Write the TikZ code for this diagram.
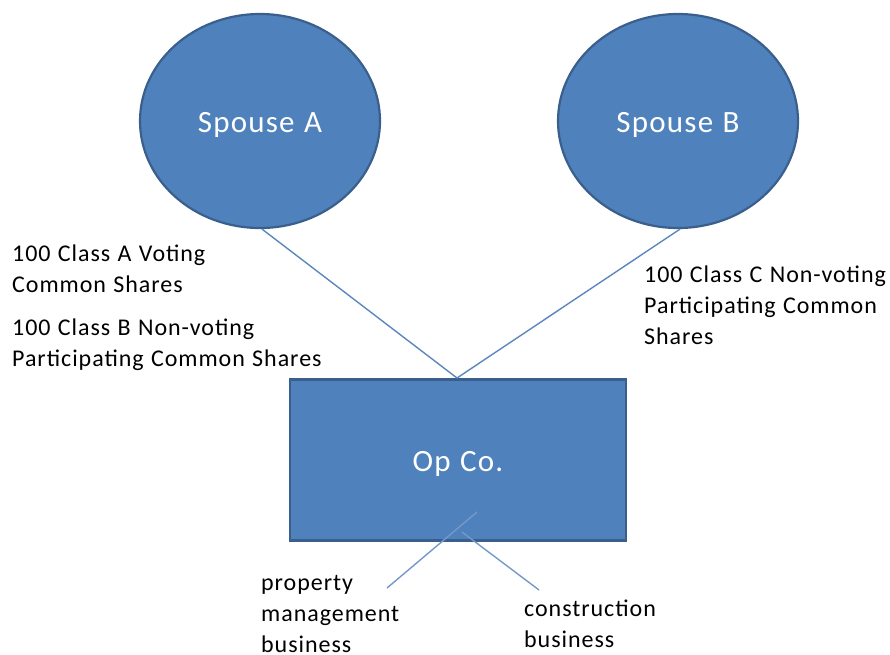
\documentclass[tikz,border=0pt]{standalone}
\usepackage{fontspec}
\setmainfont{Carlito}[LetterSpace=4,WordSpace=1.15]
\usetikzlibrary{shapes.geometric}
\definecolor{shapefill}{HTML}{4F81BD}
\definecolor{shapeedge}{HTML}{3A5F8C}
\definecolor{linkcol}{HTML}{5B87C0}
\newcommand{\boxtext}[1]{\raisebox{-11pt}[0pt][0pt]{#1}}
\begin{document}
\begin{tikzpicture}[x=1pt,y=-1pt,
  owner/.style={ellipse,draw=shapeedge,fill=shapefill,line width=2.2pt,
    minimum width=240pt,minimum height=214pt,inner sep=0pt,
    text=white,font=\fontsize{31}{36}\selectfont},
  company/.style={rectangle,draw=shapeedge,fill=shapefill,line width=2.5pt,
    minimum width=336pt,minimum height=161pt,inner sep=0pt,
    text=white,font=\fontsize{31}{36}\selectfont},
  link/.style={draw=linkcol,line width=1.4pt},
  note/.style={anchor=north west,align=left,inner sep=0pt,
    font=\fontsize{24}{31}\selectfont}]
\useasboundingbox (0,0) rectangle (890,654);

% shareholders and the operating company
\node[owner] (spA) at (260,121) {\boxtext{Spouse A}};
\node[owner] (spB) at (678,121) {\boxtext{Spouse B}};
\node[company] (opco) at (458,460) {\boxtext{Op Co.}};

% share holdings
\coordinate (join) at (457,378);
\draw[link] (spA.south) ++(2,0) -- (join);
\draw[link] (spB.south) ++(2,0) -- (join);

% business lines
\coordinate (pmTop) at (477,512);
\coordinate (pmEnd) at (387,588);
\coordinate (cbTop) at (462,532);
\coordinate (cbEnd) at (539,590);
\draw[link,draw=linkcol!85!white] (pmTop) -- (pmEnd);
\draw[link,draw=linkcol!85!white] (cbTop) -- (cbEnd);

% labels
\node[note] (lblA) at (12,245) {100 Class A Voting\\Common Shares};
\node[note] (lblB) at (12,319) {100 Class B Non-voting\\Participating Common Shares};
\node[note] (lblC) at (644,266) {100 Class C Non-voting\\Participating Common\\Shares};
\node[note] (lblPM) at (261,575) {property\\management\\business};
\node[note] (lblCB) at (524,600) {construction\\business};
\end{tikzpicture}
\end{document}
